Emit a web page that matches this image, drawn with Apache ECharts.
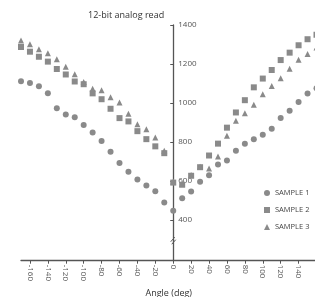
<!DOCTYPE html>
<html>
<head>
<meta charset="utf-8">
<script src="https://cdn.jsdelivr.net/npm/echarts@6/dist/echarts.min.js"></script>
<style>
  html, body { margin: 0; padding: 0; background: #fff; }
  #chart { width: 315px; height: 297px; }
</style>
</head>
<body>
<div id="chart"></div>
<script>
  // angles in degrees, one reading every 10 deg
  var angles = [-170, -160, -150, -140, -130, -120, -110, -100, -90, -80, -70, -60, -50, -40, -30, -20, -10,
    0, 10, 20, 30, 40, 50, 60, 70, 80, 90, 100, 110, 120, 130, 140, 150, 160];
  var sample1 = [1111, 1102, 1085, 1049, 973, 940, 927, 887, 848, 805, 749, 691, 646, 607, 576, 546, 489,
    446, 510, 545, 595, 629, 684, 704, 755, 790, 814, 837, 868, 923, 960, 1005, 1048, 1075];
  var sample2 = [1287, 1263, 1237, 1212, 1174, 1146, 1110, 1096, 1049, 1019, 970, 922, 905, 855, 814, 777, 742,
    591, 580, 626, 670, 730, 791, 873, 951, 1014, 1080, 1125, 1169, 1220, 1258, 1296, 1327, 1350];
  var sample3 = [1320, 1301, 1275, 1255, 1224, 1186, 1147, 1108, 1073, 1065, 1029, 1002, 945, 891, 865, 823, 754,
    596, 585, 630, 672, 663, 725, 832, 908, 947, 990, 1045, 1087, 1127, 1176, 1222, 1251, 1284];
  var xTicks = [-160, -140, -120, -100, -80, -60, -40, -20, 0, 20, 40, 60, 80, 100, 120, 140];
  var yTicks = [400, 600, 800, 1000, 1200, 1400];

  function pairs(ys) {
    return angles.map(function (a, i) { return [a, ys[i]]; });
  }

  var mychart = echarts.init(document.getElementById('chart'));
  var axisColor = '#555';
  var markColor = '#8a8a8a';
  var font = 'Open Sans';

  var xMin = -170, xMax = 160;
  var gridW = 295.5;
  // y axis sits on angle 0, labels on its right side
  var yOffset = -(0 - xMin) / (xMax - xMin) * gridW;

  var option = {
    animation: false,
    textStyle: { fontFamily: font },
    title: {
      text: '12-bit analog read',
      left: 83,
      top: 6,
      textStyle: { fontSize: 9, fontWeight: 'normal', color: '#333', fontFamily: font }
    },
    legend: {
      orient: 'vertical',
      left: 259,
      top: 184,
      itemWidth: 6,
      itemHeight: 6,
      itemGap: 9,
      textStyle: { fontSize: 7.5, color: '#444', fontFamily: font },
      data: ['SAMPLE 1', 'SAMPLE 2', 'SAMPLE 3']
    },
    grid: {
      left: 21,
      top: 25,
      width: gridW,
      height: 235.7,
      outerBoundsMode: 'none'
    },
    xAxis: {
      type: 'value',
      min: xMin,
      max: xMax,
      name: 'Angle (deg)',
      nameLocation: 'middle',
      nameGap: 23,
      nameTextStyle: { fontSize: 9, color: '#333', fontFamily: font },
      axisLine: { onZero: false, lineStyle: { color: axisColor, width: 1.3 } },
      axisTick: { show: true, length: 3, customValues: xTicks, lineStyle: { color: axisColor } },
      axisLabel: {
        customValues: xTicks,
        rotate: -90,
        fontSize: 8,
        color: '#555',
        margin: 4,
        formatter: function (v) { return String(v); }
      },
      splitLine: { show: false }
    },
    yAxis: {
      type: 'value',
      position: 'left',
      offset: yOffset,
      min: 190,
      max: 1400,
      axisLine: { show: true, onZero: false, lineStyle: { color: axisColor, width: 1.3 } },
      axisTick: { show: true, length: 3, customValues: yTicks, lineStyle: { color: axisColor } },
      axisLabel: {
        customValues: yTicks,
        inside: true,
        fontSize: 8,
        color: '#555',
        margin: 5,
        formatter: function (v) { return String(v); }
      },
      splitLine: { show: false }
    },
    series: [
      {
        name: 'SAMPLE 1',
        type: 'scatter',
        symbol: 'circle',
        symbolSize: 6,
        itemStyle: { color: markColor, opacity: 1 },
        data: pairs(sample1)
      },
      {
        name: 'SAMPLE 2',
        type: 'scatter',
        symbol: 'rect',
        symbolSize: 6,
        itemStyle: { color: markColor, opacity: 1 },
        data: pairs(sample2)
      },
      {
        name: 'SAMPLE 3',
        type: 'scatter',
        symbol: 'triangle',
        symbolSize: 6,
        itemStyle: { color: markColor, opacity: 1 },
        data: pairs(sample3)
      }
    ]
  };
  mychart.setOption(option);

  // axis break mark "//" on the y axis
  var bp = mychart.convertToPixel({ xAxisIndex: 0, yAxisIndex: 0 }, [0, 290]);
  mychart.setOption({
    graphic: [
      { type: 'rect', shape: { x: bp[0] - 3, y: bp[1] - 3, width: 6, height: 5 }, style: { fill: '#fff' } },
      { type: 'line', shape: { x1: bp[0] - 2.5, y1: bp[1] + 0.5, x2: bp[0] + 1.5, y2: bp[1] - 4 }, style: { stroke: axisColor, lineWidth: 1 } },
      { type: 'line', shape: { x1: bp[0] - 1.5, y1: bp[1] + 3, x2: bp[0] + 2.5, y2: bp[1] - 1.5 }, style: { stroke: axisColor, lineWidth: 1 } }
    ]
  });
</script>
</body>
</html>
